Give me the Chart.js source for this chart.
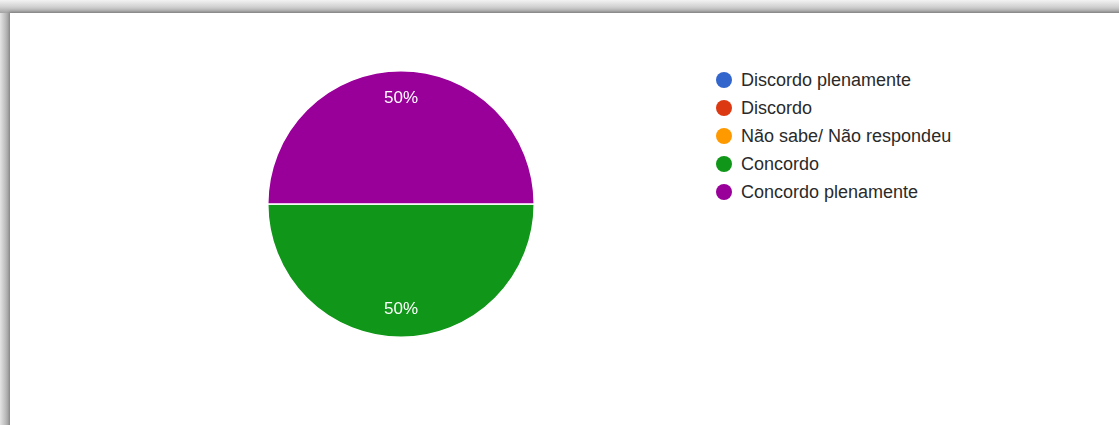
<!DOCTYPE html>
<html>
<head>
<meta charset="utf-8">
<script src="https://cdn.jsdelivr.net/npm/chart.js@4"></script>
<style>
  html, body { margin: 0; padding: 0; width: 1119px; height: 425px; overflow: hidden; }
  body { background: linear-gradient(#f3f3f3 0px, #d0d0d0 7px, #a2a2a2 13px); }
  .card {
    position: absolute; left: 10px; top: 13px; width: 1200px; height: 500px;
    background: #fff; box-shadow: -1px -1px 3px rgba(0, 0, 0, 0.25);
  }
  .left-shade {
    position: absolute; left: 0; top: 13px; width: 10px; height: 412px;
    background: linear-gradient(to right, #e4e4e4, #b8b8b8 6px, #a6a6a6);
  }
  #pie-box { position: absolute; left: 267px; top: 70px; width: 268px; height: 268px; }
  #legend { position: absolute; left: 716px; top: 66px; font-family: "Liberation Sans", Arial, sans-serif; font-size: 18px; color: #2a2a2a; }
  #legend .item { height: 28px; display: flex; align-items: center; }
  #legend .dot { width: 16px; height: 16px; border-radius: 50%; margin-right: 9px; }
</style>
</head>
<body>
<div class="left-shade"></div>
<div class="card"></div>
<div id="pie-box"><canvas id="pie"></canvas></div>
<div id="legend"></div>
<script>
const categories = ["Discordo plenamente", "Discordo", "Não sabe/ Não respondeu", "Concordo", "Concordo plenamente"];
const values = [0, 0, 0, 50, 50];
const colors = ["#3366cc", "#dc3912", "#ff9900", "#109618", "#990099"];

// legend list
const legend = document.getElementById("legend");
categories.forEach((c, i) => {
  const row = document.createElement("div");
  row.className = "item";
  row.innerHTML = `<span class="dot" style="background:${colors[i]}"></span><span>${c}</span>`;
  legend.appendChild(row);
});

// percent labels inside the slices
const sliceLabels = {
  id: "sliceLabels",
  afterDatasetsDraw(chart) {
    const ctx = chart.ctx;
    const data = chart.data.datasets[0].data;
    const total = data.reduce((a, b) => a + b, 0);
    chart.getDatasetMeta(0).data.forEach((arc, i) => {
      if (!data[i]) return;
      const { x, y, startAngle, endAngle, outerRadius } = arc.getProps(["x", "y", "startAngle", "endAngle", "outerRadius"], true);
      const mid = (startAngle + endAngle) / 2;
      const r = outerRadius * 0.79;
      ctx.save();
      ctx.fillStyle = "#ffffff";
      ctx.font = "17px 'Liberation Sans', Arial, sans-serif";
      ctx.textAlign = "center";
      ctx.textBaseline = "middle";
      ctx.fillText(Math.round(data[i] / total * 100) + "%", x + Math.cos(mid) * r, y + Math.sin(mid) * r);
      ctx.restore();
    });
  }
};

new Chart(document.getElementById("pie").getContext("2d"), {
  type: "pie",
  data: {
    labels: categories,
    datasets: [{
      data: values,
      backgroundColor: colors,
      borderColor: "#ffffff",
      borderWidth: 1.5,
    }],
  },
  options: {
    responsive: true,
    maintainAspectRatio: false,
    animation: false,
    rotation: 90,
    layout: { padding: 0 },
    plugins: { legend: { display: false }, tooltip: { enabled: false } },
  },
  plugins: [sliceLabels],
});
</script>
</body>
</html>
